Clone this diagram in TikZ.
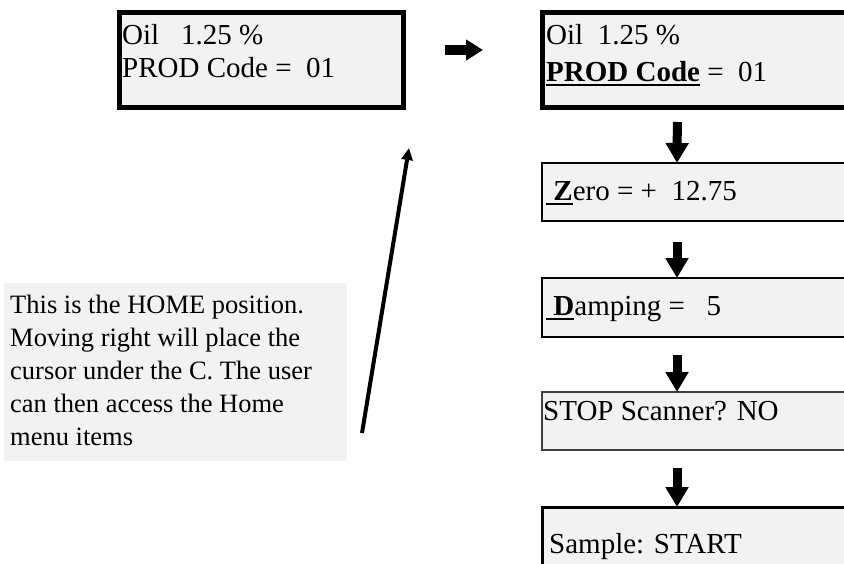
\documentclass[tikz,border=0pt]{standalone}
\usepackage{fontspec}
\setmainfont{Liberation Serif}
\usetikzlibrary{arrows.meta}
\definecolor{boxfill}{HTML}{F2F2F2}
\newcommand\myul[1]{\setbox0\hbox{#1}\rlap{\raisebox{-5pt}{\rule{\wd0}{2.5pt}}}\box0\relax}
\begin{document}
\begin{tikzpicture}[x=1pt,y=-1pt,
  box/.style={draw, fill=boxfill, outer sep=0pt, inner sep=0pt, anchor=north west},
  txt/.style={anchor=base west, inner sep=0pt, font=\fontsize{29}{34}\selectfont},
  blk/.style={line width=9pt, -{Triangle[width=22pt,length=20pt]}},
  thin arrow/.style={line width=4pt, -{Triangle[width=11pt,length=12pt]}}]
\useasboundingbox (0,0) rectangle (844,563);
\clip (0,0) rectangle (844,563);
% boxes
\node[box, line width=5pt, minimum width=283.5pt, minimum height=95pt] (lb) at (119.5,12.5) {};
\node[box, line width=5pt, minimum width=307.5pt, minimum height=95.5pt] (b1) at (542.5,12) {};
\node[box, line width=2pt, minimum width=308pt, minimum height=58pt] (zero) at (542,163) {};
\node[box, line width=2pt, minimum width=308pt, minimum height=59pt] (damp) at (542,278) {};
\node[box, line width=1.2pt, draw=black!75, minimum width=308pt, minimum height=58pt] (stop) at (542,392) {};
\node[box, line width=3pt, minimum width=308pt, minimum height=93pt] (samp) at (542,507) {};
\node[box, draw=none, minimum width=343pt, minimum height=178pt] (note) at (4,283) {};
% texts
\node[txt] (lt1) at (122,44) {Oil\ \ \ 1.25 \%};
\node[txt] (lt2) at (122,77) {PROD Code =\ \ 01};
\node[txt] (rt1) at (546,44) {Oil\ \ 1.25 \%};
\node[txt] (rt2) at (546,81) {\myul{\textbf{PROD Code}} =\ \ 01};
\node[txt] (zt) at (546,200) {\myul{\textbf{\ Z}}ero = +\ \ 12.75};
\node[txt] (dt) at (546,315) {\myul{\textbf{\ D}}amping =\ \ \ 5};
\node[txt] (st) at (543,420) {STOP Scanner? NO};
\node[txt] (sa) at (549,553) {Sample: START};
\node[anchor=north west, inner sep=0pt, align=left, font=\fontsize{26.5}{33}\selectfont] (nt) at (10,295)
  {This is the HOME position.\\Moving right will place the\\cursor under the C. The user\\can then access the Home\\menu items};
% arrows
\coordinate (ra1) at (445,50);
\coordinate (ra2) at (483,50);
\draw[line width=10pt, -{Triangle[width=20pt,length=17pt]}] (ra1) -- (ra2);
\draw[blk, shorten <=14.5pt] ([xshift=135pt]b1.south west) -- ([xshift=135pt]zero.north west);
\draw[blk, shorten <=21pt] ([xshift=135pt]zero.south west) -- ([xshift=135pt]damp.north west);
\draw[blk, shorten <=18pt] ([xshift=135pt]damp.south west) -- ([xshift=135pt]stop.north west);
\draw[blk, shorten <=18pt] ([xshift=135pt]stop.south west) -- ([xshift=135pt]samp.north west);
\coordinate (la1) at (362,433);
\coordinate (la2) at (409,148);
\draw[thin arrow] (la1) -- (la2);
\end{tikzpicture}
\end{document}
